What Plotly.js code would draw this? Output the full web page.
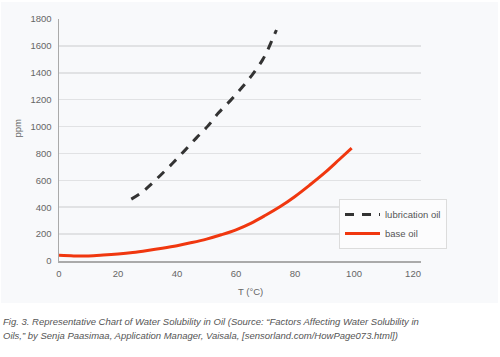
<!DOCTYPE html>
<html>
<head>
<meta charset="utf-8">
<script src="https://cdn.plot.ly/plotly-3.0.1.min.js"></script>
<style>
html,body{margin:0;padding:0;background:#ffffff;}
#chart{width:500px;height:357px;}
</style>
</head>
<body>
<div id="chart"></div>
<script>
// Data
const lubT   = [24.5, 28, 31, 34.5, 38.5, 42.5, 46.5, 50.5, 54, 58, 62, 65.5, 69, 71, 72.5, 73.7];
const lubPpm = [460, 509, 566, 640, 727, 819, 914, 1005, 1100, 1191, 1290, 1385, 1496, 1582, 1658, 1718];

const baseT   = [0, 5, 10, 15, 20, 25, 30, 35, 40, 45, 50, 55, 60, 65, 70, 75, 80, 85, 90, 95, 99.2];
const basePpm = [42, 38, 38, 44, 52, 63, 78, 95, 114, 137, 163, 195, 232, 280, 340, 405, 480, 565, 655, 755, 840];

const seriesNames = ["lubrication oil", "base oil"];
const yTicks = [0, 200, 400, 600, 800, 1000, 1200, 1400, 1600, 1800];
const xTicks = [0, 20, 40, 60, 80, 100, 120];
const xTitle = "T (°C)";
const yTitle = "ppm";
const caption1 = "Fig. 3. Representative Chart of Water Solubility in Oil (Source: “Factors Affecting Water Solubility in";
const caption2 = "Oils,” by Senja Paasimaa, Application Manager, Vaisala, [sensorland.com/HowPage073.html])";

const FONT = "Liberation Sans, Arial, Helvetica, sans-serif";
const W = 500, H = 357;
const M = {l: 59, r: 79, t: 19, b: 96};
const pw = W - M.l - M.r, ph = H - M.t - M.b;
const px = v => (v - M.l) / pw;      // pixel x -> paper x
const py = v => (H - M.b - v) / ph;  // pixel y -> paper y

const traces = [
  {x: lubT, y: lubPpm, name: seriesNames[0], type: "scatter", mode: "lines",
   line: {color: "#333333", width: 3, dash: "9px,8px", shape: "spline"}},
  {x: baseT, y: basePpm, name: seriesNames[1], type: "scatter", mode: "lines",
   line: {color: "#f0370f", width: 3, shape: "spline"}}
];

const layout = {
  width: W, height: H,
  margin: M,
  paper_bgcolor: "#ffffff",
  plot_bgcolor: "#f8f9fb",
  font: {family: FONT, size: 9.5, color: "#666666"},
  showlegend: true,
  legend: {
    x: px(339), y: py(199), xanchor: "left", yanchor: "top",
    bgcolor: "#fcfcfd", bordercolor: "#dcdcdc", borderwidth: 1,
    font: {family: FONT, size: 9.5, color: "#555555"},
    itemwidth: 35
  },
  xaxis: {
    range: [0, 122.7], tickvals: xTicks, ticktext: xTicks.map(String),
    showgrid: false, zeroline: false, showline: true, linecolor: "#aaaaaa", linewidth: 1.5,
    ticks: "", ticklabelstandoff: 3,
    tickfont: {family: FONT, size: 9.5, color: "#666666"}, fixedrange: true
  },
  yaxis: {
    range: [0, 1800], tickvals: yTicks, ticktext: yTicks.map(String),
    showgrid: true, gridcolor: "#e1e2e4", gridwidth: 1.5,
    zeroline: false, showline: true, linecolor: "#aaaaaa", linewidth: 1.5,
    ticks: "", ticklabelstandoff: 4,
    tickfont: {family: FONT, size: 9.5, color: "#666666"}, fixedrange: true
  },
  shapes: [
    {type: "rect", xref: "paper", yref: "paper", layer: "below",
     x0: px(1), x1: px(498), y0: py(303), y1: py(2),
     fillcolor: "#f8f9fb", line: {width: 0}}
  ],
  annotations: [
    {text: yTitle, xref: "paper", yref: "paper", x: px(17), y: py(128.5),
     xanchor: "center", yanchor: "middle", textangle: -90, showarrow: false,
     font: {family: FONT, size: 9.5, color: "#666666"}},
    {text: xTitle, xref: "paper", yref: "paper", x: px(250), y: py(291.5),
     xanchor: "center", yanchor: "middle", showarrow: false,
     font: {family: FONT, size: 9.5, color: "#666666"}},
    {text: "<i>" + caption1 + "</i>", xref: "paper", yref: "paper", x: px(1), y: py(321.7),
     xanchor: "left", yanchor: "middle", showarrow: false, align: "left",
     font: {family: FONT, size: 9.5, color: "#555555"}},
    {text: "<i>" + caption2 + "</i>", xref: "paper", yref: "paper", x: px(1), y: py(335.7),
     xanchor: "left", yanchor: "middle", showarrow: false, align: "left",
     font: {family: FONT, size: 9.5, color: "#555555"}}
  ]
};

Plotly.newPlot("chart", traces, layout, {displayModeBar: false, staticPlot: true});
</script>
</body>
</html>
